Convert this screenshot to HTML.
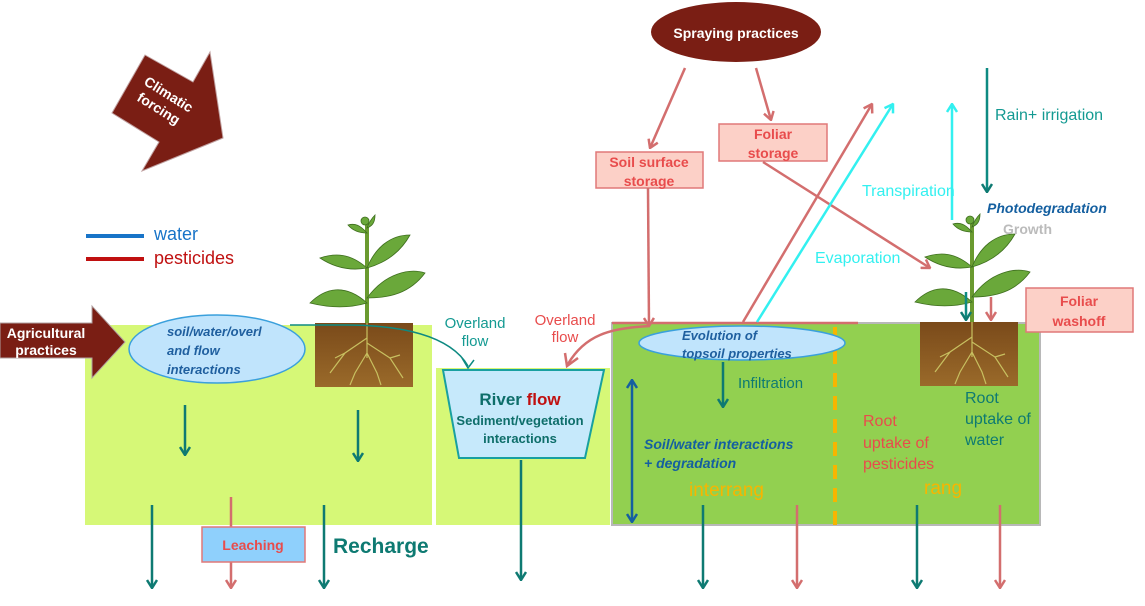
<!DOCTYPE html>
<html><head><meta charset="utf-8"><style>
html,body{margin:0;padding:0;background:#fff}
svg{display:block}
text{font-family:"Liberation Sans",sans-serif}
</style></head><body>
<svg width="1145" height="606" viewBox="0 0 1145 606" xmlns="http://www.w3.org/2000/svg">
<defs>
<marker id="aT" markerWidth="10" markerHeight="12" refX="9" refY="6" orient="auto" markerUnits="userSpaceOnUse"><path d="M1,1 L9,6 L1,11" fill="none" stroke="#0e7a72" stroke-width="2.5"/></marker>
<marker id="aR" markerWidth="10" markerHeight="12" refX="9" refY="6" orient="auto" markerUnits="userSpaceOnUse"><path d="M1,1 L9,6 L1,11" fill="none" stroke="#d36e6e" stroke-width="2.5"/></marker>
<marker id="aC" markerWidth="10" markerHeight="12" refX="9" refY="6" orient="auto" markerUnits="userSpaceOnUse"><path d="M1,1 L9,6 L1,11" fill="none" stroke="#33f0f0" stroke-width="2.5"/></marker>
<marker id="aB" markerWidth="10" markerHeight="12" refX="9" refY="6" orient="auto-start-reverse" markerUnits="userSpaceOnUse"><path d="M1,1 L9,6 L1,11" fill="none" stroke="#145fa0" stroke-width="2.5"/></marker>
<linearGradient id="soil" x1="0" y1="0" x2="0" y2="1"><stop offset="0" stop-color="#7a4a1a"/><stop offset="1" stop-color="#9a6a2a"/></linearGradient>
<g id="plant">
<rect x="0" y="0" width="98" height="64" fill="url(#soil)"/>
<g stroke="#c8c060" stroke-width="1.2" fill="none">
<path d="M52,0 L52,35 M52,15 L30,30 L15,50 M52,20 L75,35 L88,55 M52,30 L40,50 L35,62 M52,30 L62,50 L66,62 M30,30 L20,35 M75,35 L85,32"/>
</g>
<path d="M52,0 L52,-100" stroke="#6a9a30" stroke-width="4"/>
<g fill="#6aa83a" stroke="#3e6e1e" stroke-width="0.8">
<path d="M52,-20 C30,-40 10,-35 -5,-20 C15,-15 35,-15 52,-20Z"/>
<path d="M52,-25 C70,-50 95,-55 110,-50 C95,-30 75,-25 52,-25Z"/>
<path d="M52,-55 C35,-70 20,-70 5,-65 C20,-55 35,-52 52,-55Z"/>
<path d="M52,-55 C60,-75 75,-88 95,-88 C85,-70 70,-60 52,-55Z"/>
<path d="M52,-90 C45,-98 40,-100 33,-98 C38,-92 45,-90 52,-90Z"/>
<path d="M52,-95 C55,-103 58,-106 60,-108 C60,-100 57,-97 52,-95Z"/>
<circle cx="50" cy="-102" r="4"/>
</g>
</g>
</defs>

<rect x="85" y="325" width="347" height="200" fill="#d6f877"/>
<rect x="436" y="368" width="174" height="157" fill="#d6f877"/>
<rect x="612" y="323" width="428" height="202" fill="#92d050" stroke="#b8b8b8" stroke-width="2"/>
<line x1="835" y1="327" x2="835" y2="525" stroke="#f7b500" stroke-width="4" stroke-dasharray="14,9"/>

<polygon points="145,55 193,82 210,52 223,138 142,171 159,142 112,113" fill="#7a1e14" stroke="#c0a0a0" stroke-width="1"/>
<text transform="translate(143,84) rotate(32)" font-size="14" font-weight="bold" fill="#fff">Climatic</text>
<text transform="translate(136,100) rotate(32)" font-size="14" font-weight="bold" fill="#fff">forcing</text>

<line x1="86" y1="236" x2="144" y2="236" stroke="#1874c8" stroke-width="4"/>
<line x1="86" y1="259" x2="144" y2="259" stroke="#c01010" stroke-width="4"/>
<text x="154" y="240" font-size="18" fill="#1874c8">water</text>
<text x="154" y="264" font-size="18" fill="#c01010">pesticides</text>

<polygon points="0,323 92,323 92,306 125,342 92,378 92,358 0,358" fill="#7a1e14" stroke="#b0a0a0"/>
<text x="46" y="338" font-size="14" font-weight="bold" fill="#fff" text-anchor="middle">Agricultural</text>
<text x="46" y="355" font-size="14" font-weight="bold" fill="#fff" text-anchor="middle">practices</text>

<use href="#plant" x="315" y="323"/>
<use href="#plant" x="920" y="322"/>

<path d="M290,325 L345,325 C400,325 450,335 468,366" fill="none" stroke="#0e8a82" stroke-width="1.5"/>
<path d="M462,358 L468,368 L474,360" fill="none" stroke="#0e8a82" stroke-width="1.5"/>
<ellipse cx="217" cy="349" rx="88" ry="34" fill="#c0e4fc" stroke="#3aa0dc" stroke-width="1.5"/>
<g font-size="13" font-weight="bold" font-style="italic" fill="#1f5f9f">
<text x="167" y="336">soil/water/overl</text>
<text x="167" y="355">and flow</text>
<text x="167" y="374">interactions</text>
</g>

<polygon points="443,370 604,370 585,458 459,458" fill="#c6e9fb" stroke="#18a0a0" stroke-width="2"/>
<text x="520" y="405" font-size="17" font-weight="bold" fill="#0e6e6a" text-anchor="middle">River <tspan fill="#c01010">flow</tspan></text>
<text x="520" y="425" font-size="13" font-weight="bold" fill="#0e6e6a" text-anchor="middle">Sediment/vegetation</text>
<text x="520" y="443" font-size="13" font-weight="bold" fill="#0e6e6a" text-anchor="middle">interactions</text>
<text x="475" y="328" font-size="15" fill="#149a92" text-anchor="middle">Overland</text>
<text x="475" y="346" font-size="15" fill="#149a92" text-anchor="middle">flow</text>
<text x="565" y="325" font-size="15" fill="#e84c4c" text-anchor="middle">Overland</text>
<text x="565" y="342" font-size="15" fill="#e84c4c" text-anchor="middle">flow</text>

<line x1="612" y1="323" x2="858" y2="323" stroke="#d36e6e" stroke-width="2.5"/>
<path d="M650,326 C610,328 585,335 568,364" fill="none" stroke="#d36e6e" stroke-width="2.5"/>
<path d="M565,353 L567,366 L578,358" fill="none" stroke="#d36e6e" stroke-width="2.5"/>

<ellipse cx="742" cy="343" rx="103" ry="17" fill="#c0e4fc" stroke="#3aa0dc" stroke-width="1.5"/>
<g font-size="13" font-weight="bold" font-style="italic" fill="#1f5f9f">
<text x="682" y="340">Evolution of</text>
<text x="682" y="358">topsoil properties</text>
</g>

<ellipse cx="736" cy="32" rx="85" ry="30" fill="#7a1e14"/>
<text x="736" y="38" font-size="14" font-weight="bold" fill="#fff" text-anchor="middle">Spraying practices</text>
<line x1="685" y1="68" x2="650" y2="148" stroke="#d36e6e" stroke-width="2.5" marker-end="url(#aR)"/>
<line x1="756" y1="68" x2="771" y2="120" stroke="#d36e6e" stroke-width="2.5" marker-end="url(#aR)"/>
<rect x="596" y="152" width="107" height="36" fill="#fcd0c7" stroke="#e07878" stroke-width="1.5"/>
<text x="649" y="167" font-size="14" font-weight="bold" fill="#e84c4c" text-anchor="middle">Soil surface</text>
<text x="649" y="186" font-size="14" font-weight="bold" fill="#e84c4c" text-anchor="middle">storage</text>
<rect x="719" y="124" width="108" height="37" fill="#fcd0c7" stroke="#e07878" stroke-width="1.5"/>
<text x="773" y="139" font-size="14" font-weight="bold" fill="#e84c4c" text-anchor="middle">Foliar</text>
<text x="773" y="158" font-size="14" font-weight="bold" fill="#e84c4c" text-anchor="middle">storage</text>
<line x1="648" y1="188" x2="649" y2="326" stroke="#d36e6e" stroke-width="2.5" marker-end="url(#aR)"/>
<line x1="763" y1="162" x2="930" y2="268" stroke="#d36e6e" stroke-width="2.5" marker-end="url(#aR)"/>
<line x1="743" y1="322" x2="872" y2="104" stroke="#d36e6e" stroke-width="2.5" marker-end="url(#aR)"/>
<line x1="757" y1="322" x2="893" y2="104" stroke="#33f0f0" stroke-width="2.5" marker-end="url(#aC)"/>
<line x1="952" y1="220" x2="952" y2="104" stroke="#33f0f0" stroke-width="2.5" marker-end="url(#aC)"/>
<line x1="987" y1="68" x2="987" y2="192" stroke="#0e8a82" stroke-width="2.5" marker-end="url(#aT)"/>
<text x="995" y="120" font-size="16" fill="#149a92">Rain+ irrigation</text>
<text x="862" y="196" font-size="16" fill="#33f0f0">Transpiration</text>
<text x="815" y="263" font-size="16" fill="#33f0f0">Evaporation</text>
<text x="987" y="213" font-size="14" font-weight="bold" font-style="italic" fill="#145fa0">Photodegradation</text>
<text x="1003" y="234" font-size="14" font-weight="bold" fill="#bbbbbb">Growth</text>

<rect x="1026" y="288" width="107" height="44" fill="#fcd0c7" stroke="#e07878" stroke-width="1.5"/>
<text x="1079" y="306" font-size="14" font-weight="bold" fill="#e84c4c" text-anchor="middle">Foliar</text>
<text x="1079" y="326" font-size="14" font-weight="bold" fill="#e84c4c" text-anchor="middle">washoff</text>
<line x1="966" y1="292" x2="966" y2="320" stroke="#0e8a82" stroke-width="2.5" marker-end="url(#aT)"/>
<line x1="991" y1="297" x2="991" y2="320" stroke="#d36e6e" stroke-width="2.5" marker-end="url(#aR)"/>

<line x1="723" y1="362" x2="723" y2="407" stroke="#0e7a72" stroke-width="2.5" marker-end="url(#aT)"/>
<text x="738" y="388" font-size="15" fill="#0e7a72">Infiltration</text>
<line x1="632" y1="380" x2="632" y2="522" stroke="#145fa0" stroke-width="2.5" marker-start="url(#aB)" marker-end="url(#aB)"/>
<text x="644" y="449" font-size="14" font-weight="bold" font-style="italic" fill="#145fa0">Soil/water interactions</text>
<text x="644" y="468" font-size="14" font-weight="bold" font-style="italic" fill="#145fa0">+ degradation</text>
<text x="689" y="496" font-size="19" fill="#f7b500">interrang</text>
<text x="924" y="494" font-size="19" fill="#f7b500">rang</text>
<text x="863" y="426" font-size="16" fill="#e84c4c">Root</text>
<text x="863" y="448" font-size="16" fill="#e84c4c">uptake of</text>
<text x="863" y="469" font-size="16" fill="#e84c4c">pesticides</text>
<text x="965" y="403" font-size="16" fill="#0e7a72">Root</text>
<text x="965" y="424" font-size="16" fill="#0e7a72">uptake of</text>
<text x="965" y="445" font-size="16" fill="#0e7a72">water</text>

<g stroke-width="2.5">
<line x1="185" y1="405" x2="185" y2="455" stroke="#0e7a72" marker-end="url(#aT)"/>
<line x1="358" y1="410" x2="358" y2="461" stroke="#0e7a72" marker-end="url(#aT)"/>
<line x1="152" y1="505" x2="152" y2="588" stroke="#0e7a72" marker-end="url(#aT)"/>
<line x1="324" y1="505" x2="324" y2="588" stroke="#0e7a72" marker-end="url(#aT)"/>
<line x1="521" y1="460" x2="521" y2="580" stroke="#0e7a72" marker-end="url(#aT)"/>
<line x1="703" y1="505" x2="703" y2="588" stroke="#0e7a72" marker-end="url(#aT)"/>
<line x1="917" y1="505" x2="917" y2="588" stroke="#0e7a72" marker-end="url(#aT)"/>
<line x1="231" y1="497" x2="231" y2="588" stroke="#d36e6e" marker-end="url(#aR)"/>
<line x1="797" y1="505" x2="797" y2="588" stroke="#d36e6e" marker-end="url(#aR)"/>
<line x1="1000" y1="505" x2="1000" y2="588" stroke="#d36e6e" marker-end="url(#aR)"/>
</g>
<rect x="202" y="527" width="103" height="35" fill="#8fd0fc" stroke="#e07878" stroke-width="1.5"/>
<text x="253" y="550" font-size="14" font-weight="bold" fill="#e84c4c" text-anchor="middle">Leaching</text>
<text x="333" y="553" font-size="21" font-weight="bold" fill="#0e7a72">Recharge</text>
</svg>
</body></html>
